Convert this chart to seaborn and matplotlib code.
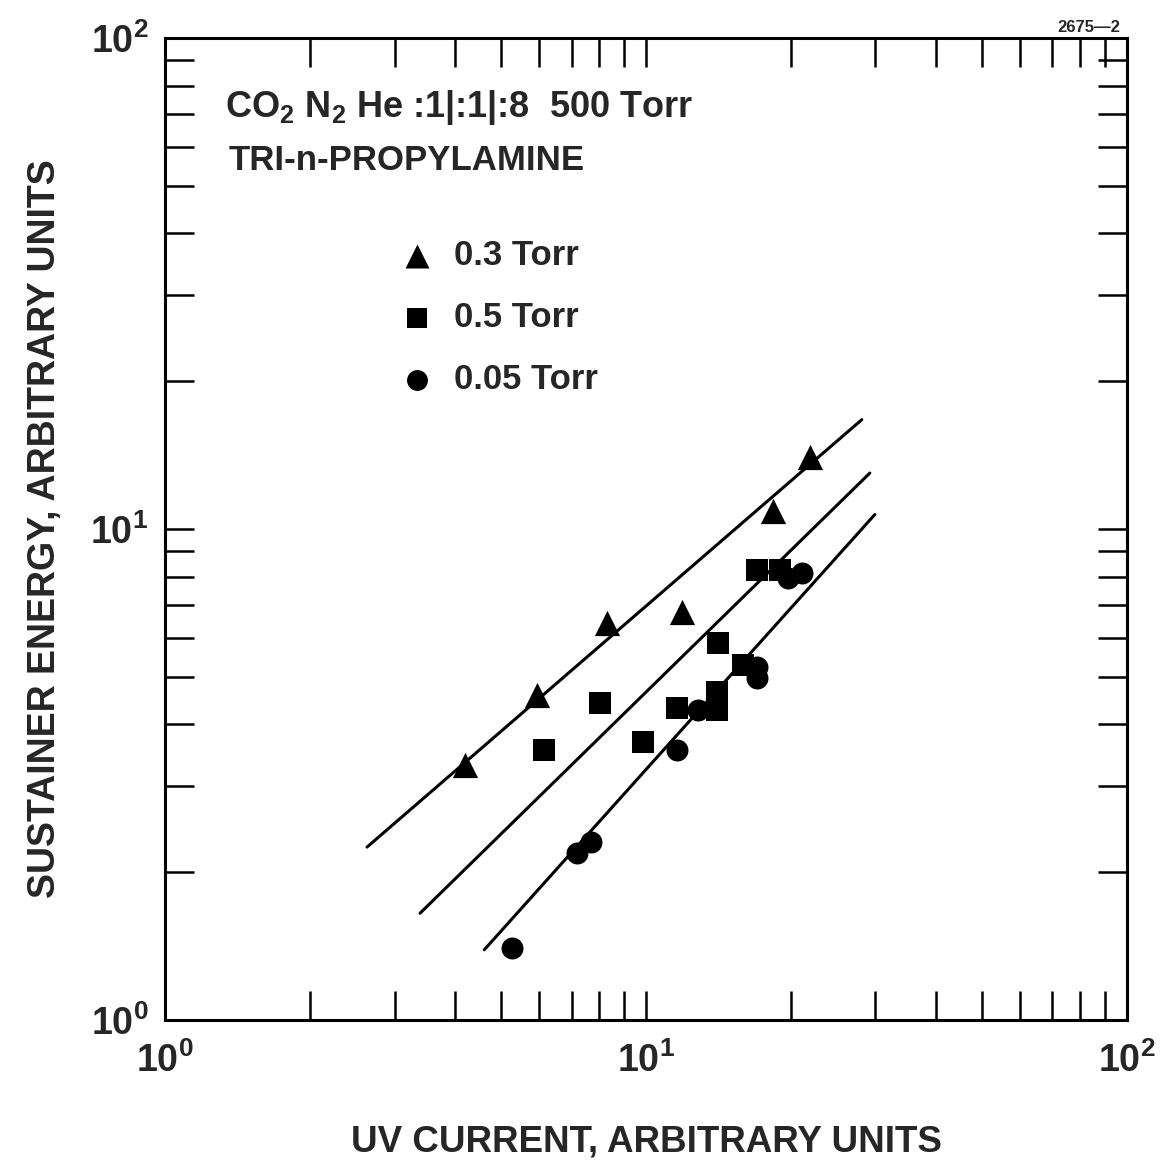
import numpy as np
import pandas as pd
import matplotlib
matplotlib.use("Agg")
import matplotlib.pyplot as plt
import matplotlib.ticker as mticker
import seaborn as sns

# Data (UV current vs sustainer energy, log-log)
tri_x = [4.20, 5.93, 8.30, 11.9, 18.4, 21.9]
tri_y = [3.31, 4.59, 6.44, 6.78, 10.9, 14.0]

sq_x = [6.14, 8.02, 9.86, 11.6, 14.05, 14.05, 14.1, 15.9, 17.0, 19.0]
sq_y = [3.55, 4.42, 3.68, 4.32, 4.66, 4.28, 5.86, 5.28, 8.25, 8.25]

circ_x = [5.27, 7.19, 7.69, 11.6, 12.8, 17.0, 17.0, 19.7, 21.1]
circ_y = [1.40, 2.19, 2.30, 3.55, 4.28, 5.24, 4.97, 7.95, 8.13]

# fitted straight lines (end points)
fit_03_x = [2.63, 28.1]
fit_03_y = [2.25, 16.7]
fit_05_x = [3.39, 29.2]
fit_05_y = [1.65, 13.0]
fit_005_x = [4.61, 29.9]
fit_005_y = [1.39, 10.7]

labels = ["0.3 Torr", "0.5 Torr", "0.05 Torr"]

sns.set_style("ticks")
plt.rcParams['font.family'] = ['Liberation Sans', 'DejaVu Sans']
plt.rcParams['font.weight'] = 'bold'
plt.rcParams['axes.labelweight'] = 'bold'
plt.rcParams['mathtext.default'] = 'regular'
plt.rcParams['mathtext.fontset'] = 'custom'
plt.rcParams['mathtext.rm'] = 'Liberation Sans:bold'

fig = plt.figure(figsize=(11.64, 11.72), dpi=100)
ax = fig.add_axes([0.1418, 0.1297, 0.8264, 0.8379])

# fit lines
for fx, fy in [(fit_03_x, fit_03_y), (fit_05_x, fit_05_y), (fit_005_x, fit_005_y)]:
    sns.lineplot(x=fx, y=fy, ax=ax, color='black', linewidth=2.2,
                 sort=False, estimator=None, legend=False)

# data points
sns.scatterplot(x=tri_x, y=tri_y, ax=ax, marker='^', s=330, color='black',
                edgecolor='black', linewidth=0, label=labels[0], zorder=3)
sns.scatterplot(x=sq_x, y=sq_y, ax=ax, marker='s', s=230, color='black',
                edgecolor='black', linewidth=0, label=labels[1], zorder=3)
sns.scatterplot(x=circ_x, y=circ_y, ax=ax, marker='o', s=250, color='black',
                edgecolor='black', linewidth=0, label=labels[2], zorder=3)

ax.set_xscale('log')
ax.set_yscale('log')
ax.set_xlim(1, 100)
ax.set_ylim(1, 100)

ax.xaxis.set_major_formatter(mticker.LogFormatterMathtext())
ax.yaxis.set_major_formatter(mticker.LogFormatterMathtext())
ax.xaxis.set_minor_formatter(mticker.NullFormatter())
ax.yaxis.set_minor_formatter(mticker.NullFormatter())

ax.tick_params(which='both', direction='in', top=True, right=True,
               length=21, width=1.8, color='black')
ax.tick_params(axis='x', which='major', labelsize=27, pad=16)
ax.tick_params(axis='y', which='major', labelsize=27, pad=12)

for sp in ax.spines.values():
    sp.set_linewidth(2.2)
    sp.set_color('black')

ax.set_xlabel("UV CURRENT, ARBITRARY UNITS", fontsize=26.5, labelpad=32)
ax.set_ylabel("SUSTAINER ENERGY, ARBITRARY UNITS", fontsize=27, labelpad=20)

ax.text(0.062, 0.9196, r"CO$_2$ N$_2$ He :1|:1|:8  500 Torr", transform=ax.transAxes,
        fontsize=26, va='baseline', ha='left')
ax.text(0.066, 0.8656, "TRI-n-PROPYLAMINE", transform=ax.transAxes,
        fontsize=25, va='baseline', ha='left')

ax.legend(loc='upper left', bbox_to_anchor=(0.2225, 0.813), frameon=False,
          fontsize=25, borderpad=0, handletextpad=0.45, handlelength=1.2,
          labelspacing=0.84, markerscale=0.95)

fig.text(1120 / 1164, 1 - 32 / 1172, "2675\u20142", fontsize=12, fontweight='bold',
         ha='right', va='baseline')

fig.savefig("out.png", dpi=100)
plt.close(fig)
